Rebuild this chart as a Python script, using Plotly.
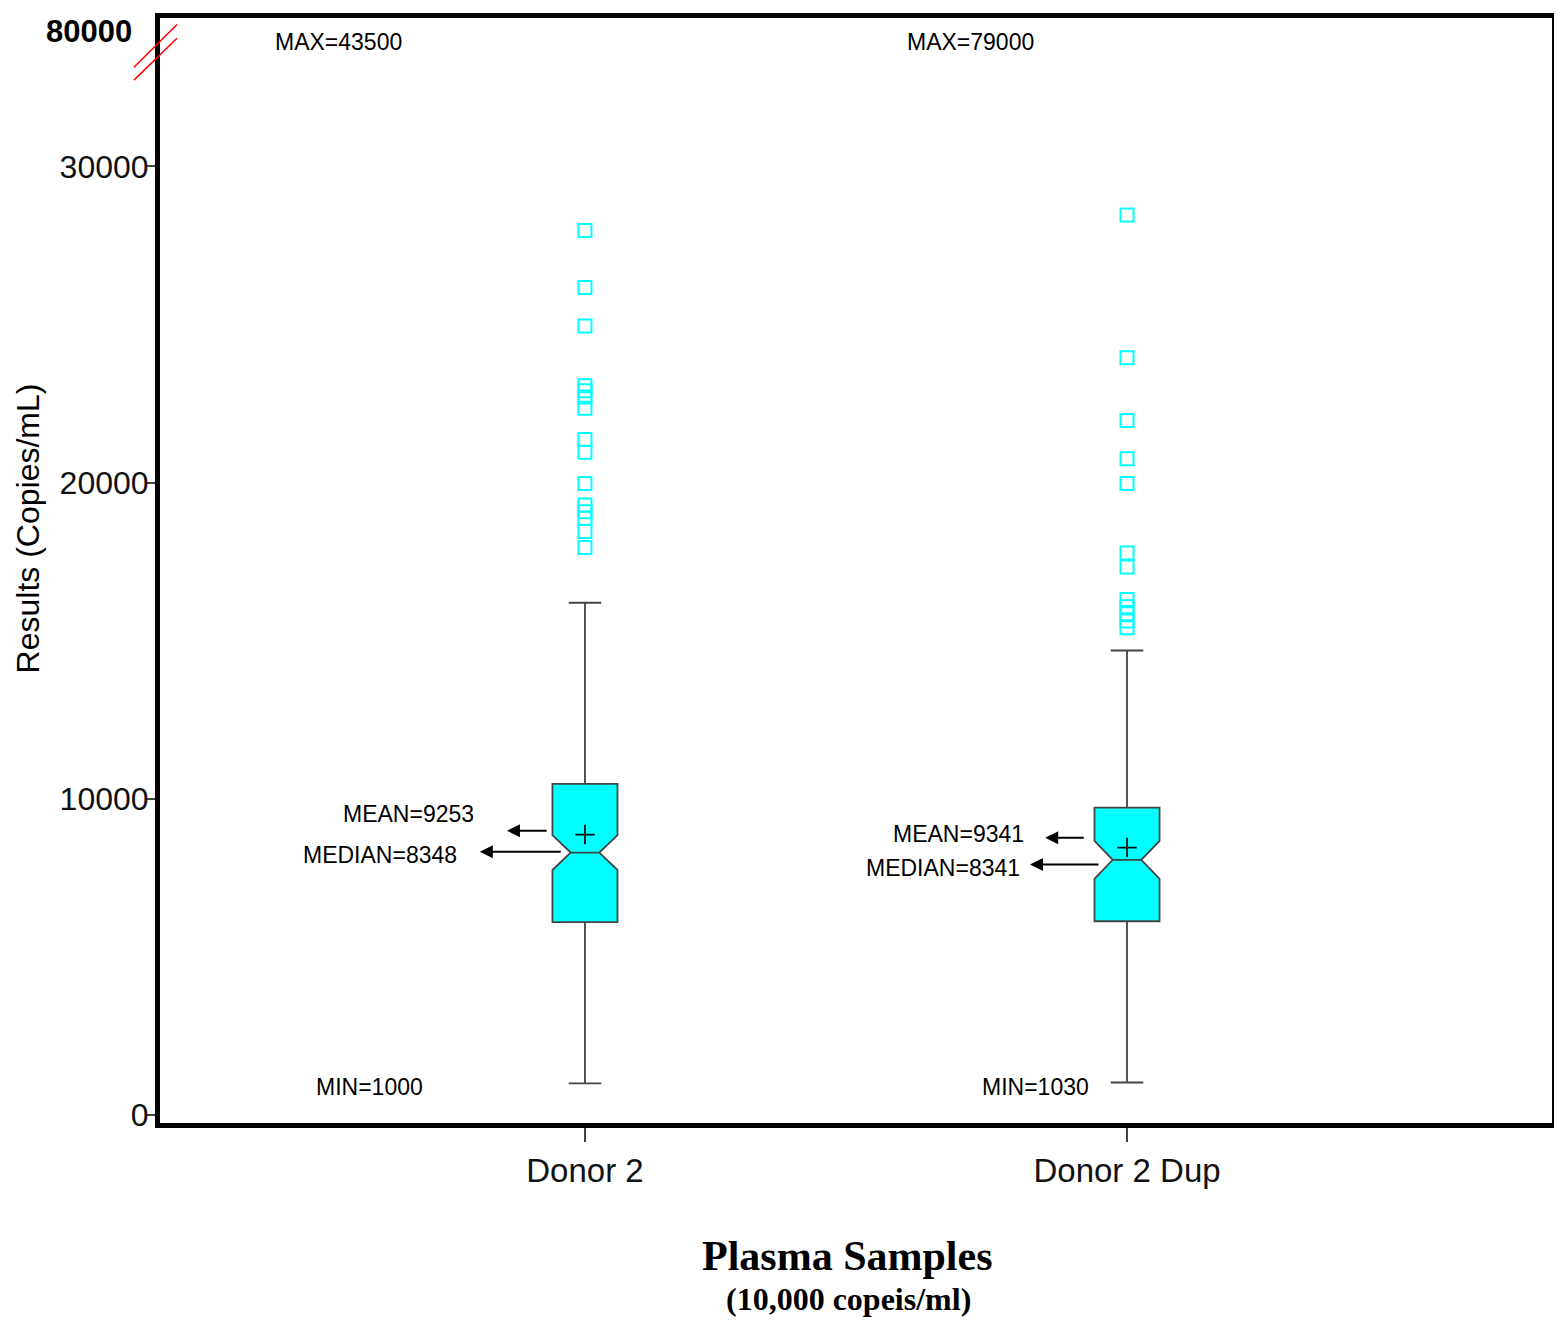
import plotly.graph_objects as go

# ---------------- data ----------------
categories = ["Donor 2", "Donor 2 Dup"]
q1_vals = [6100, 6130]
median_vals = [8300, 8070]
q3_vals = [10470, 9720]
lower_fence = [1000, 1030]
upper_fence = [16200, 14690]
mean_vals = [8870, 8460]
notch_spans = [550, 600]

outliers_donor2 = [27970, 26170, 24950, 23060, 22900, 22710, 22350, 21360,
                   20960, 19970, 19290, 19080, 18870, 18450, 17950]
outliers_donor2_dup = [28460, 23950, 21960, 20750, 19970, 17770, 17330,
                       16300, 16070, 15850, 15620, 15410]

max_labels = ["MAX=43500", "MAX=79000"]
min_labels = ["MIN=1000", "MIN=1030"]
mean_labels = ["MEAN=9253", "MEAN=9341"]
median_labels = ["MEDIAN=8348", "MEDIAN=8341"]

y_tick_vals = [0, 10000, 20000, 30000]
y_tick_text = ["0", "10000", "20000", "30000"]
broken_top_label = "80000"

# ---------------- figure ----------------
CYAN = "#00FFFF"
fig = go.Figure()

xpos = list(range(len(categories)))
fig.add_trace(go.Box(
    x=xpos, q1=q1_vals, median=median_vals, q3=q3_vals,
    lowerfence=lower_fence, upperfence=upper_fence,
    notched=True, notchspan=notch_spans, notchwidth=0.28,
    width=0.12, whiskerwidth=0.5,
    fillcolor=CYAN, line=dict(color="#444444", width=1.8),
    boxpoints=False, showlegend=False, hoverinfo="skip",
))

# mean markers
fig.add_trace(go.Scatter(
    x=xpos, y=mean_vals, mode="markers",
    marker=dict(symbol="cross-thin", size=14, line=dict(color="#111111", width=1.8)),
    showlegend=False, hoverinfo="skip",
))

# outliers
for i, outs in enumerate([outliers_donor2, outliers_donor2_dup]):
    fig.add_trace(go.Scatter(
        x=[xpos[i]] * len(outs), y=outs, mode="markers",
        marker=dict(symbol="square-open", size=13, color=CYAN, line=dict(color=CYAN, width=2)),
        showlegend=False, hoverinfo="skip",
    ))

label_font = dict(family="Liberation Sans, Arial", size=23, color="black")
annotations = []
# positions of labels (layout only)
max_pos = [(-0.454, 33930), (0.712, 33930)]
min_pos = [(-0.397, 880), (0.832, 880)]
mean_pos = [(-0.325, 9530), (0.690, 8900)]
median_pos = [(-0.378, 8240), (0.661, 7800)]
for i in range(2):
    for txt, (px, py) in [(max_labels[i], max_pos[i]), (min_labels[i], min_pos[i]),
                          (mean_labels[i], mean_pos[i]), (median_labels[i], median_pos[i])]:
        annotations.append(dict(x=px, y=py, xref="x", yref="y", text=txt,
                                showarrow=False, font=label_font,
                                xanchor="center", yanchor="middle"))

# arrows (tail -> tip)
arrows = [((-0.068, 8990), (-0.144, 8990)),
          ((-0.042, 8330), (-0.194, 8330)),
          ((0.923, 8770), (0.849, 8770)),
          ((0.950, 7925), (0.821, 7925))]
for (tx, ty), (hx, hy) in arrows:
    annotations.append(dict(x=hx, y=hy, ax=tx, ay=ty, xref="x", yref="y",
                            axref="x", ayref="y", text="", showarrow=True,
                            arrowhead=2, arrowsize=1.3, arrowwidth=2, arrowcolor="black"))

# broken axis top label
annotations.append(dict(x=-0.0194, y=0.988, xref="paper", yref="paper",
                        text="<b>" + broken_top_label + "</b>", showarrow=False,
                        xanchor="right", yanchor="middle", borderpad=0,
                        font=dict(family="Liberation Sans, Arial", size=31, color="black")))
# y-axis title
annotations.append(dict(x=-0.0945, y=0.5385, xref="paper", yref="paper",
                        text="Results (Copies/mL)", textangle=-90, showarrow=False,
                        xanchor="center", yanchor="middle",
                        font=dict(family="Liberation Sans, Arial", size=32, color="black")))
# x-axis title
annotations.append(dict(x=0.4939, y=-0.1207, xref="paper", yref="paper",
                        text="<b>Plasma Samples</b>", showarrow=False,
                        xanchor="center", yanchor="middle",
                        font=dict(family="Liberation Serif, Times New Roman", size=42, color="black")))
annotations.append(dict(x=0.4946, y=-0.1594, xref="paper", yref="paper",
                        text="<b>(10,000 copeis/ml)</b>", showarrow=False,
                        xanchor="center", yanchor="middle",
                        font=dict(family="Liberation Serif, Times New Roman", size=32, color="black")))

shapes = [
    dict(type="line", xref="paper", yref="paper", x0=-0.0187, y0=0.9555, x1=0.0122, y1=0.9942,
         line=dict(color="red", width=1.5)),
    dict(type="line", xref="paper", yref="paper", x0=-0.0187, y0=0.9438, x1=0.0122, y1=0.9816,
         line=dict(color="red", width=1.5)),
]

fig.update_layout(
    width=1554, height=1312,
    margin=dict(l=152, r=10, t=5, b=197),
    paper_bgcolor="white", plot_bgcolor="white",
    showlegend=False,
    annotations=annotations,
    shapes=shapes,
    xaxis=dict(
        range=[-0.784, 1.784], tickvals=xpos, ticktext=categories,
        showgrid=False, zeroline=False,
        showline=True, linewidth=5, linecolor="black", mirror=True,
        ticks="outside", ticklen=14, tickwidth=2, tickcolor="#444444",
        tickfont=dict(family="Liberation Sans, Arial", size=33, color="#111111"),
    ),
    yaxis=dict(
        range=[-250, 34690], tickvals=y_tick_vals, ticktext=y_tick_text,
        showgrid=False, zeroline=False,
        showline=True, linewidth=5, linecolor="black", mirror=True,
        ticks="outside", ticklen=10, tickwidth=2, tickcolor="#444444",
        ticklabelstandoff=-10,
        tickfont=dict(family="Liberation Sans, Arial", size=32, color="#111111"),
    ),
)

fig.write_html("out.html")
